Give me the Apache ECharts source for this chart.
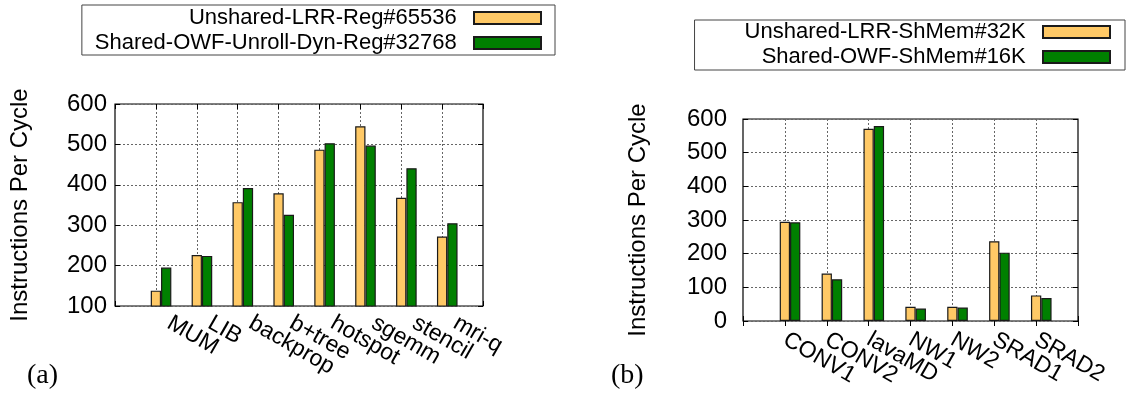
<!DOCTYPE html>
<html>
<head>
<meta charset="utf-8">
<script src="https://cdn.jsdelivr.net/npm/echarts@6/dist/echarts.min.js"></script>
<style>
html,body{margin:0;padding:0;background:#fff;}
#c{width:1126px;height:401px;}
</style>
</head>
<body>
<div id="c"></div>
<script>
// ---- data (a) ----
const catsA = ['MUM', 'LIB', 'backprop', 'b+tree', 'hotspot', 'sgemm', 'stencil', 'mri-q'];
const unsharedA = [138, 226, 357, 379, 487, 545, 368, 272];
const sharedA = [195, 224, 392, 326, 503, 497, 441, 305];
const nameUA = 'Unshared-LRR-Reg#65536';
const nameSA = 'Shared-OWF-Unroll-Dyn-Reg#32768';
const yMinA = 100, yMaxA = 600, yStepA = 100;

// ---- data (b) ----
const catsB = ['CONV1', 'CONV2', 'lavaMD', 'NW1', 'NW2', 'SRAD1', 'SRAD2'];
const unsharedB = [295, 141, 571, 42, 42, 237, 76];
const sharedB = [293, 124, 579, 37, 40, 203, 68];
const nameUB = 'Unshared-LRR-ShMem#32K';
const nameSB = 'Shared-OWF-ShMem#16K';
const yMinB = 0, yMaxB = 600, yStepB = 100;

const yTitle = 'Instructions Per Cycle';
const YELLOW = '#ffc966';
const GREEN = '#008000';
const FONT = 'Liberation Sans';

const padCats = c => [''].concat(c, ['']);
const padVals = v => [null].concat(v, [null]);

function xAxisMain(gi, cats, margin, padLeft) {
  return {
    type: 'category', gridIndex: gi, data: padCats(cats), boundaryGap: false,
    axisLine: {show: false},
    axisTick: {show: true, inside: true, length: 5, lineStyle: {color: '#000'}, interval: 0},
    axisLabel: {interval: 0, rotate: -30, margin: margin, padding: [0, 0, 0, padLeft],
                color: '#000', fontFamily: FONT, fontSize: 23},
    splitLine: {show: true, interval: 0, lineStyle: {type: [2, 2], color: '#666', width: 1}}
  };
}
function xAxisTop(gi, cats) {
  return {
    type: 'category', gridIndex: gi, position: 'top', data: padCats(cats), boundaryGap: false,
    axisLine: {show: false},
    axisTick: {show: true, inside: true, length: 5, lineStyle: {color: '#000'}, interval: 0},
    axisLabel: {show: false}, splitLine: {show: false}
  };
}
function yAxisMain(gi, mn, mx, st, gap, lblMargin) {
  return {
    type: 'value', gridIndex: gi, min: mn, max: mx, interval: st,
    name: yTitle, nameLocation: 'middle', nameRotate: 90, nameGap: gap,
    nameTextStyle: {color: '#000', fontFamily: FONT, fontSize: 24},
    axisLine: {show: false},
    axisTick: {show: true, inside: true, length: 5, lineStyle: {color: '#000'}},
    axisLabel: {color: '#000', fontFamily: FONT, fontSize: 24, margin: lblMargin},
    splitLine: {show: true, lineStyle: {type: [2, 2], color: '#666', width: 1}}
  };
}
function yAxisRight(gi, mn, mx, st) {
  return {
    type: 'value', gridIndex: gi, position: 'right', min: mn, max: mx, interval: st,
    axisLine: {show: false},
    axisTick: {show: true, inside: true, length: 5, lineStyle: {color: '#000'}},
    axisLabel: {show: false}, splitLine: {show: false}
  };
}
const barStyle = c => ({color: c, borderColor: '#1a1a1a', borderWidth: 1.2});
function bars(name, vals, c, xi, yi) {
  return {name: name, type: 'bar', xAxisIndex: xi, yAxisIndex: yi, data: padVals(vals),
          barWidth: 10.3, barGap: '0%', itemStyle: barStyle(c), silent: true, animation: false};
}
function spacer(name, n, xi, yi) {
  return {name: name, type: 'bar', xAxisIndex: xi, yAxisIndex: yi, data: new Array(n + 2).fill(null),
          barWidth: 10.3, barGap: '0%', silent: true, animation: false};
}
function legend(names, opts) {
  return Object.assign({
    data: names, orient: 'vertical', align: 'right', icon: 'rect',
    borderColor: '#444', borderWidth: 1, backgroundColor: '#fff',
    itemWidth: 67, itemHeight: 12, itemGap: 3,
    formatter: n => n + '  ',
    textStyle: {color: '#000', fontFamily: FONT, fontSize: 22},
    selectedMode: false
  }, opts);
}

const chart = echarts.init(document.getElementById('c'), null, {renderer: 'canvas'});
chart.setOption({
  animation: false,
  backgroundColor: '#fff',
  title: [
    {text: '(a)', left: 27, top: 362, padding: 0, textStyle: {fontFamily: 'Liberation Serif', fontWeight: 'normal', fontSize: 28, color: '#000'}},
    {text: '(b)', left: 611, top: 362, padding: 0, textStyle: {fontFamily: 'Liberation Serif', fontWeight: 'normal', fontSize: 28, color: '#000'}}
  ],
  legend: [
    legend([nameUA, nameSA], {right: 571, top: 5, padding: [2, 13, 1, 13]}),
    legend([nameUB, nameSB], {right: 1, top: 20, padding: [1, 14, 2, 50]})
  ],
  grid: [
    {left: 115, top: 104, width: 368, height: 202, show: true, borderColor: '#000', borderWidth: 1.2, backgroundColor: 'transparent'},
    {left: 743, top: 119, width: 335, height: 202, show: true, borderColor: '#000', borderWidth: 1.2, backgroundColor: 'transparent'}
  ],
  xAxis: [xAxisMain(0, catsA, 8, 15), xAxisTop(0, catsA), xAxisMain(1, catsB, 17, 0), xAxisTop(1, catsB)],
  yAxis: [yAxisMain(0, yMinA, yMaxA, yStepA, 83, 8), yAxisRight(0, yMinA, yMaxA, yStepA),
          yAxisMain(1, yMinB, yMaxB, yStepB, 93, 16), yAxisRight(1, yMinB, yMaxB, yStepB)],
  series: [
    spacer('_spacerA', catsA.length, 0, 0),
    bars(nameUA, unsharedA, YELLOW, 0, 0),
    bars(nameSA, sharedA, GREEN, 0, 0),
    spacer('_spacerB', catsB.length, 2, 2),
    bars(nameUB, unsharedB, YELLOW, 2, 2),
    bars(nameSB, sharedB, GREEN, 2, 2)
  ]
});
</script>
</body>
</html>
